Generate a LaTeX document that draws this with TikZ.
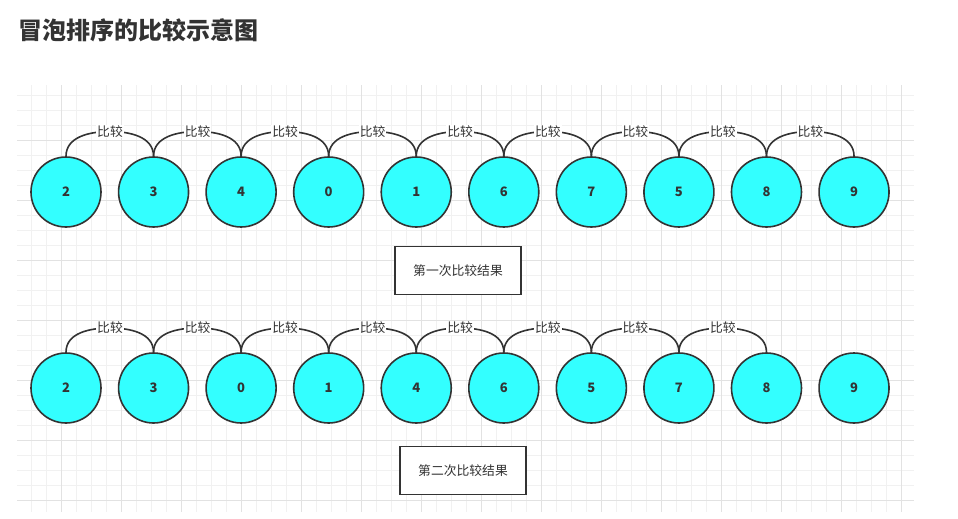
\documentclass[tikz,border=0pt]{standalone}
\usepackage{fontspec}
\setmainfont{Noto Sans CJK SC}
\usepackage{tikz}
\usetikzlibrary{shapes,arrows,calc,backgrounds,positioning}

\definecolor{ink}{HTML}{333333}
\definecolor{ballfill}{HTML}{33FFFF}
\definecolor{gridminor}{HTML}{F1F1F1}
\definecolor{gridmajor}{HTML}{E2E2E2}

\begin{document}
\begin{tikzpicture}[x=1pt,y=1pt,
	ball/.style={circle,draw=ink,line width=1.6pt,fill=ballfill,minimum size=70pt,inner sep=0pt,
		text=ink,font=\fontsize{13}{15}\selectfont\bfseries},
	link/.style={draw=ink,line width=1.6pt},
	lbl/.style={fill=white,inner sep=1pt,text=ink,font=\fontsize{12.8}{14}\selectfont},
	result/.style={rectangle,draw=ink,line width=1.6pt,fill=white,minimum width=126pt,minimum height=48pt,
		text=ink,font=\fontsize{12.8}{14}\selectfont}]
	\useasboundingbox[fill=white] (0,0) rectangle (958,-519);
	\foreach \gx in {31.7,46.7,...,914}
		\draw[gridminor,line width=0.8pt] (\gx,-85) -- (\gx,-512);
	\foreach \gy in {95,110,...,512}
		\draw[gridminor,line width=0.8pt] (17,-\gy) -- (914,-\gy);
	\foreach \gx in {61.7,121.7,...,914}
		\draw[gridmajor,line width=0.8pt] (\gx,-85) -- (\gx,-512);
	\foreach \gy in {140,200,...,512}
		\draw[gridmajor,line width=0.8pt] (17,-\gy) -- (914,-\gy);
	\node[anchor=west,text=ink,font=\fontsize{24}{27}\selectfont\bfseries] (title) at (14.5,-30) {冒泡排序的比较示意图};
	\foreach \v [count=\i] in {2,3,4,0,1,6,7,5,8,9}
		\node[ball] (a\i) at ({66+87.56*(\i-1)},-192) {\v};
	\foreach \v [count=\i] in {2,3,0,1,4,6,5,7,8,9}
		\node[ball] (b\i) at ({66+87.56*(\i-1)},-388) {\v};
	\foreach \i [evaluate=\i as \j using int(\i+1)] in {1,...,9} {
		\coordinate (ta\i) at ({110+87.56*(\i-1)},-131.5);
		\draw[link] (a\i.north) to[out=90,in=180] (ta\i) to[out=0,in=90] (a\j.north);
		\node[lbl] at (ta\i) {比较};
	}
	\foreach \i [evaluate=\i as \j using int(\i+1)] in {1,...,8} {
		\coordinate (tb\i) at ({110+87.56*(\i-1)},-328);
		\draw[link] (b\i.north) to[out=90,in=180] (tb\i) to[out=0,in=90] (b\j.north);
		\node[lbl] at (tb\i) {比较};
	}
	\node[result] (r1) at (458,-270.5) {第一次比较结果};
	\node[result] (r2) at (463,-470.5) {第二次比较结果};
\end{tikzpicture}
\end{document}
